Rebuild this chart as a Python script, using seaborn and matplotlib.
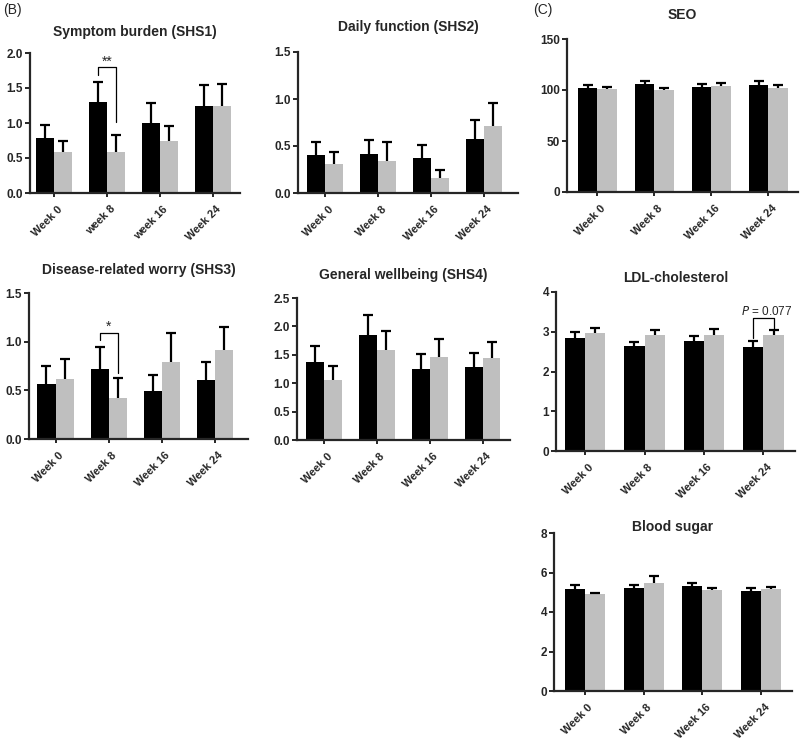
import numpy as np
import pandas as pd
import matplotlib
matplotlib.use('agg')
import matplotlib.pyplot as plt
import matplotlib.transforms as mtrans
import seaborn as sns

weeks = ["Week 0", "Week 8", "Week 16", "Week 24"]
weeks_shs1 = ["Week 0", "week 8", "week 16", "Week 24"]
groups = ["A", "B"]

# mean and upper error bar end, black group / grey group
shs1_black = [0.78, 1.30, 1.00, 1.25]
shs1_black_top = [0.97, 1.59, 1.28, 1.54]
shs1_grey = [0.58, 0.59, 0.74, 1.25]
shs1_grey_top = [0.75, 0.83, 0.96, 1.56]

shs2_black = [0.40, 0.41, 0.37, 0.57]
shs2_black_top = [0.54, 0.56, 0.51, 0.78]
shs2_grey = [0.31, 0.34, 0.16, 0.71]
shs2_grey_top = [0.44, 0.54, 0.24, 0.96]

shs3_black = [0.57, 0.72, 0.49, 0.61]
shs3_black_top = [0.75, 0.95, 0.66, 0.79]
shs3_grey = [0.62, 0.42, 0.79, 0.91]
shs3_grey_top = [0.82, 0.63, 1.09, 1.15]

shs4_black = [1.38, 1.85, 1.25, 1.29]
shs4_black_top = [1.65, 2.20, 1.51, 1.53]
shs4_grey = [1.05, 1.58, 1.46, 1.44]
shs4_grey_top = [1.30, 1.92, 1.77, 1.73]

seo_black = [102, 105.5, 103, 105]
seo_black_top = [104.5, 108.5, 106, 108.5]
seo_grey = [101, 100, 104, 102]
seo_grey_top = [102.5, 101.5, 107, 105]

ldl_black = [2.85, 2.64, 2.76, 2.62]
ldl_black_top = [2.99, 2.75, 2.89, 2.76]
ldl_grey = [2.98, 2.91, 2.92, 2.91]
ldl_grey_top = [3.09, 3.05, 3.06, 3.05]

sugar_black = [5.17, 5.22, 5.31, 5.08]
sugar_black_top = [5.38, 5.38, 5.47, 5.24]
sugar_grey = [4.89, 5.46, 5.12, 5.18]
sugar_grey_top = [4.96, 5.83, 5.21, 5.26]

sns.set_style("ticks")
plt.rcParams['font.family'] = ['Liberation Sans', 'DejaVu Sans']

W, H = 800, 743
fig = plt.figure(figsize=(W / 100, H / 100), dpi=100)


def make_ax(left, right, top, bottom):
    return fig.add_axes([left / W, 1 - bottom / H, (right - left) / W, (bottom - top) / H])


def draw_panel(ax, labels, black, black_top, grey, grey_top, ymax, yticks, yfmt, xlim, title, title_dy):
    df = pd.DataFrame({
        "week": labels * 2,
        "group": [groups[0]] * 4 + [groups[1]] * 4,
        "value": black + grey,
    })
    sns.barplot(data=df, x="week", y="value", hue="group", order=labels,
                palette=["black", "#bfbfbf"], width=0.68, errorbar=None,
                legend=False, ax=ax, edgecolor="none", linewidth=0)
    bars = sorted(ax.patches, key=lambda p: p.get_x())
    tops = []
    for b, g in zip(black_top, grey_top):
        tops += [b, g]
    xs = []
    for p, t in zip(bars, tops):
        x = p.get_x() + p.get_width() / 2
        h = p.get_height()
        xs.append(x)
        # upward-only error bar with a single cap
        ax.plot([x, x], [h, t], color="black", lw=1.6, zorder=3, solid_capstyle="butt")
        ax.plot([x], [t], marker="_", markersize=7, mew=1.6, color="black", zorder=3)
    ax.set_ylim(0, ymax)
    ax.set_xlim(*xlim)
    # tick_params first: changing pad/length resets the label transforms
    ax.tick_params(axis="x", length=3, width=1.4, pad=2)
    ax.tick_params(axis="y", length=3.5, width=1.4, pad=1.5)
    ax.set_yticks(yticks)
    ax.set_yticklabels([yfmt.format(v) for v in yticks], fontweight="bold", fontsize=8.5)
    ax.set_xticks(range(4))
    ax.set_xticklabels(labels, fontweight="bold", fontsize=8, rotation=45,
                       ha="right", va="center", rotation_mode="anchor")
    offset = mtrans.ScaledTranslation(0.065, -0.075, fig.dpi_scale_trans)
    for lab in ax.get_xticklabels():
        lab.set_transform(lab.get_transform() + offset)
    ax.set_xlabel("")
    ax.set_ylabel("")
    sns.despine(ax=ax)
    for s in ["left", "bottom"]:
        ax.spines[s].set_linewidth(1.6)
    ax.text(0.5, 1 + title_dy, title, transform=ax.transAxes, ha="center", va="center",
            fontsize=10, fontweight="bold")
    return xs


def bracket(ax, x1, x2, ytop, y1, y2, label, label_y, fontsize=10, dx=0):
    ax.plot([x1, x1, x2, x2], [y1, ytop, ytop, y2], color="black", lw=0.9, zorder=4)
    ax.text((x1 + x2) / 2 + dx, label_y, label, ha="center", va="center", fontsize=fontsize)


ax1 = make_ax(30, 240, 53, 193)
xs = draw_panel(ax1, weeks_shs1, shs1_black, shs1_black_top, shs1_grey, shs1_grey_top,
                2.0, [0, 0.5, 1.0, 1.5, 2.0], "{:.1f}", (-0.45, 3.51),
                "Symptom burden (SHS1)", 0.15)
bracket(ax1, xs[2], xs[3], 1.80, 1.69, 1.01, "**", 1.87)

ax2 = make_ax(298, 518, 52, 193)
draw_panel(ax2, weeks, shs2_black, shs2_black_top, shs2_grey, shs2_grey_top,
           1.5, [0, 0.5, 1.0, 1.5], "{:.1f}", (-0.51, 3.64),
           "Daily function (SHS2)", 0.18)

ax3 = make_ax(29, 248, 293, 439)
xs = draw_panel(ax3, weeks, shs3_black, shs3_black_top, shs3_grey, shs3_grey_top,
                1.5, [0, 0.5, 1.0, 1.5], "{:.1f}", (-0.5, 3.63),
                "Disease-related worry (SHS3)", 0.16)
bracket(ax3, xs[2], xs[3], 1.09, 1.02, 0.68, "*", 1.15)

ax4 = make_ax(297, 510, 298, 440)
draw_panel(ax4, weeks, shs4_black, shs4_black_top, shs4_grey, shs4_grey_top,
           2.5, [0, 0.5, 1.0, 1.5, 2.0, 2.5], "{:.1f}", (-0.51, 3.52),
           "General wellbeing (SHS4)", 0.16)

ax5 = make_ax(567, 798, 39, 192)
draw_panel(ax5, weeks, seo_black, seo_black_top, seo_grey, seo_grey_top,
           150, [0, 50, 100, 150], "{:.0f}", (-0.53, 3.52), "SEO", 0.16)

ax6 = make_ax(556, 795, 292, 451)
xs = draw_panel(ax6, weeks, ldl_black, ldl_black_top, ldl_grey, ldl_grey_top,
                4, [0, 1, 2, 3, 4], "{:.0f}", (-0.49, 3.53), "LDL-cholesterol", 0.09)
bracket(ax6, xs[6], xs[7], 3.35, 2.84, 3.04, "$P$ = 0.077", 3.52, fontsize=8.5, dx=0.05)

ax7 = make_ax(554, 792, 533, 691)
draw_panel(ax7, weeks, sugar_black, sugar_black_top, sugar_grey, sugar_grey_top,
           8, [0, 2, 4, 6, 8], "{:.0f}", (-0.52, 3.52), "Blood sugar", 0.04)

fig.text(3 / W, 1 - 10 / H, "(B)", fontsize=10, va="center", ha="left")
fig.text(533 / W, 1 - 10 / H, "(C)", fontsize=10, va="center", ha="left")

fig.savefig("out.png", dpi=100)
